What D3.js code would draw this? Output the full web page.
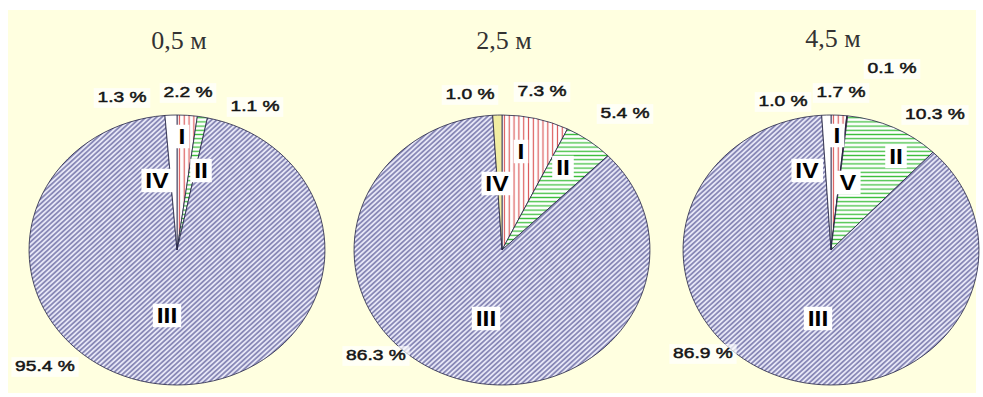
<!DOCTYPE html>
<html>
<head>
<meta charset="utf-8">
<script src="https://cdn.jsdelivr.net/npm/d3@7"></script>
<style>
  html, body { margin: 0; padding: 0; background: #ffffff; }
  svg { display: block; }
</style>
</head>
<body>
<svg id="chart" width="983" height="397"></svg>
<script>
// Depth titles, one pie per depth
const depths = ["0,5 м", "2,5 м", "4,5 м"];

// Fraction categories in drawing order (clockwise from 12 o'clock)
const categories05 = ["I", "II", "III", "IV"];
const categories25 = ["I", "II", "III", "IV"];
const categories45 = ["I", "V", "II", "III", "IV"];

// Shares, %
const shares05 = [2.2, 1.1, 95.4, 1.3];
const shares25 = [7.3, 5.4, 86.3, 1.0];
const shares45 = [1.7, 0.1, 10.3, 86.9, 1.0];

const pies = [
  { title: depths[0], cats: categories05, vals: shares05 },
  { title: depths[1], cats: categories25, vals: shares25 },
  { title: depths[2], cats: categories45, vals: shares45 }
];

// ---- layout ----
const centersX = [177, 502, 831];
const centerY = 250;
const radius = 135;
const stretchX = 1.096;

// label placement relative to each pie centre
const pctOffsets = [
  { I: [11, -158], II: [78, -144], III: [-132, 116], IV: [-55, -153] },
  { I: [40, -159], II: [123, -137], III: [-126, 105], IV: [-32, -156] },
  { I: [10, -158], V: [61, -182], II: [104, -136], III: [-128, 103], IV: [-48, -149] }
];
const romanOffsets = [
  { I: [5, -114], II: [24, -80], III: [-10, 65], IV: [-20, -70] },
  { I: [19, -99], II: [61, -83], III: [-16, 68], IV: [-5, -67] },
  { I: [6, -115], V: [17, -68], II: [65, -94], III: [-13, 68], IV: [-24, -80] }
];
const ivFill = ["#ffffff", "#f1eda2", "#ffffff"];

const svg = d3.select("#chart");

svg.append("rect")
  .attr("x", 8).attr("y", 10)
  .attr("width", 968).attr("height", 383)
  .attr("fill", "#ffffe0");

// ---- hatch patterns ----
const defs = svg.append("defs");

function stripePattern(id, bg, color, size, width, orient) {
  const p = defs.append("pattern")
    .attr("id", id)
    .attr("patternUnits", "userSpaceOnUse")
    .attr("width", size).attr("height", size);
  if (orient === "diag") p.attr("patternTransform", "rotate(45)");
  p.append("rect").attr("width", size).attr("height", size).attr("fill", bg);
  if (orient === "h") {
    p.append("line").attr("x1", 0).attr("x2", size).attr("y1", size / 2).attr("y2", size / 2)
      .attr("stroke", color).attr("stroke-width", width);
  } else {
    p.append("line").attr("y1", 0).attr("y2", size).attr("x1", size / 2).attr("x2", size / 2)
      .attr("stroke", color).attr("stroke-width", width);
  }
}
stripePattern("pat-I", "#ffffff", "#dc5a5a", 4.4, 1.1, "v");
stripePattern("pat-II", "#ffffff", "#3cbf3c", 4.2, 1.3, "h");
stripePattern("pat-III", "#e6e6f6", "#36367e", 3.4, 0.9, "diag");

function fillFor(cat, pieIndex) {
  if (cat === "I") return "url(#pat-I)";
  if (cat === "II") return "url(#pat-II)";
  if (cat === "III") return "url(#pat-III)";
  if (cat === "IV") return ivFill[pieIndex];
  return "#7a1010";
}

const pieGen = d3.pie().sort(null).value(d => d.value);
const arcGen = d3.arc().innerRadius(0).outerRadius(radius);
const fmt = d3.format(".1f");

// boxed label, drawn with a horizontal stretch like the pies
function boxedLabel(parent, x, y, text, opts) {
  const g = parent.append("g")
    .attr("transform", `translate(${x},${y}) scale(${opts.sx},1)`);
  const t = g.append("text")
    .attr("text-anchor", "middle")
    .attr("dominant-baseline", "central")
    .attr("font-family", "'Liberation Sans', Arial, sans-serif")
    .attr("font-weight", opts.weight)
    .attr("font-size", opts.size)
    .attr("fill", opts.color)
    .attr("stroke", opts.stroke ? opts.color : null)
    .attr("stroke-width", opts.stroke || null)
    .text(text);
  const bb = t.node().getBBox();
  g.insert("rect", "text")
    .attr("x", bb.x - opts.padX).attr("y", bb.y + opts.padTop)
    .attr("width", bb.width + 2 * opts.padX)
    .attr("height", bb.height - opts.padTop + opts.padBottom)
    .attr("fill", "#ffffff")
    .attr("opacity", opts.boxOpacity);
}

pies.forEach((pd, i) => {
  const cx = centersX[i];
  const rows = pd.cats.map((c, k) => ({ cat: c, value: pd.vals[k] }));
  const arcs = pieGen(rows);

  // title
  svg.append("text")
    .attr("x", cx + 2).attr("y", i === 2 ? 47 : 49)
    .attr("text-anchor", "middle")
    .attr("font-family", "'Liberation Serif', 'Times New Roman', serif")
    .attr("font-size", 26)
    .attr("fill", "#333333")
    .text(pd.title);

  const g = svg.append("g")
    .attr("transform", `translate(${cx},${centerY}) scale(${stretchX},1)`);

  g.selectAll("path.slice")
    .data(arcs)
    .join("path")
    .attr("class", "slice")
    .attr("d", arcGen)
    .attr("fill", d => fillFor(d.data.cat, i))
    .attr("stroke", "#222244")
    .attr("stroke-width", 0.8)
    .attr("vector-effect", "non-scaling-stroke");

  const lab = svg.append("g").attr("transform", `translate(${cx},${centerY})`);

  // roman numeral labels with white boxes
  arcs.forEach(a => {
    const off = romanOffsets[i][a.data.cat];
    boxedLabel(lab, off[0], off[1], a.data.cat, {
      sx: 1.12, size: 22, weight: "bold", color: "#000",
      padX: 3.5, padTop: 1, padBottom: 0, boxOpacity: 1
    });
  });

  // percentage labels
  arcs.forEach(a => {
    const off = pctOffsets[i][a.data.cat];
    boxedLabel(lab, off[0], off[1], fmt(a.data.value) + " %", {
      sx: 1.24, size: 15.5, weight: "normal", color: "#151515", stroke: 0.5,
      padX: 3, padTop: 0, padBottom: 2, boxOpacity: 0.7
    });
  });
});
</script>
</body>
</html>
